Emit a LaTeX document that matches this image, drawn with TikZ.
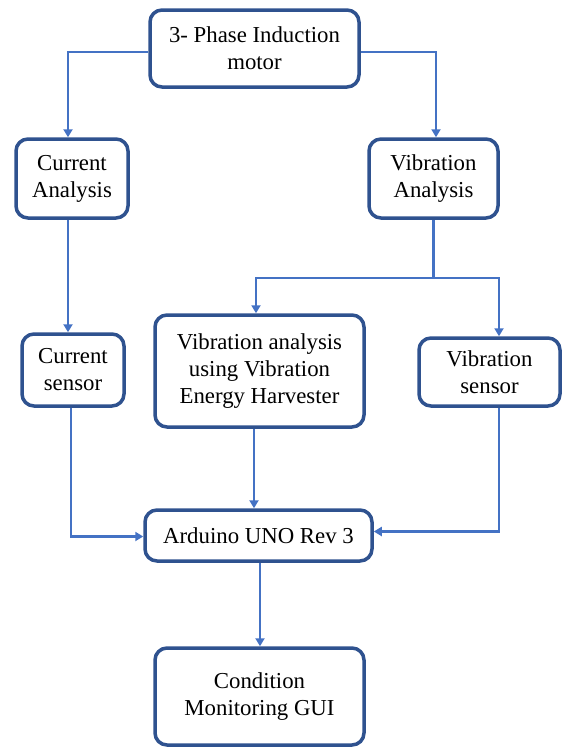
\documentclass[tikz,border=0pt]{standalone}
\usepackage{fontspec}
\setmainfont{Liberation Serif}
\usetikzlibrary{arrows.meta}
\definecolor{boxblue}{HTML}{2F528F}
\definecolor{lineblue}{HTML}{4472C4}
\begin{document}
\begin{tikzpicture}[x=1pt,y=-1pt,
  blk/.style={draw=boxblue, line width=3.5pt, rounded corners=12pt, fill=white,
    inner sep=0pt, align=center, text=black,
    font=\fontsize{22.8}{27}\selectfont},
  arr/.style={draw=lineblue, line width=2.8pt,
    -{Triangle[length=8pt,width=9pt]}},
  ln/.style={draw=lineblue, line width=2.8pt}]
\useasboundingbox (0,0) rectangle (563,747);
\node[blk, minimum width=209pt, minimum height=77pt] (motor) at (254.5,48.5) {3- Phase Induction\\motor};
\node[blk, minimum width=112pt, minimum height=79pt] (curA) at (72,178.5) {Current\\Analysis};
\node[blk, minimum width=129pt, minimum height=79pt] (vibA) at (433.5,178.5) {Vibration\\Analysis};
\node[blk, minimum width=102pt, minimum height=72pt] (curS) at (73,370) {Current\\sensor};
\node[blk, minimum width=209pt, minimum height=112pt] (vibE) at (259.5,371) {Vibration analysis\\using Vibration\\Energy Harvester};
\node[blk, minimum width=141pt, minimum height=68pt] (vibS) at (489.5,372) {Vibration\\sensor};
\node[blk, minimum width=227pt, minimum height=51pt] (ard) at (258.5,535.5) {Arduino UNO Rev 3};
\node[blk, minimum width=209pt, minimum height=97pt] (gui) at (259.5,696.5) {Condition\\Monitoring GUI};
\coordinate (sp) at (433.5,278);
\draw[arr] ([yshift=-3.5pt]motor.west) -| ([xshift=-4pt]curA.north);
\draw[arr] ([yshift=-3.5pt]motor.east) -| ([xshift=2.5pt]vibA.north);
\draw[arr] ([xshift=-4pt]curA.south) -- ([xshift=-4pt]curA.south |- curS.north);
\draw[ln] (vibA.south) -- (sp);
\draw[arr] (sp) -| ([xshift=-3.5pt]vibE.north);
\draw[arr] (sp) -| ([xshift=9.5pt]vibS.north);
\draw[arr] ([xshift=-2pt]curS.south) |- ([yshift=-1pt]ard.west);
\draw[arr] ([xshift=-5.5pt]vibE.south) -- ([xshift=-5.5pt]vibE.south |- ard.north);
\draw[arr] ([xshift=9.5pt]vibS.south) |- ([yshift=4pt]ard.east);
\draw[arr] ([xshift=1.5pt]ard.south) -- ([xshift=1.5pt]ard.south |- gui.north);
\end{tikzpicture}
\end{document}
